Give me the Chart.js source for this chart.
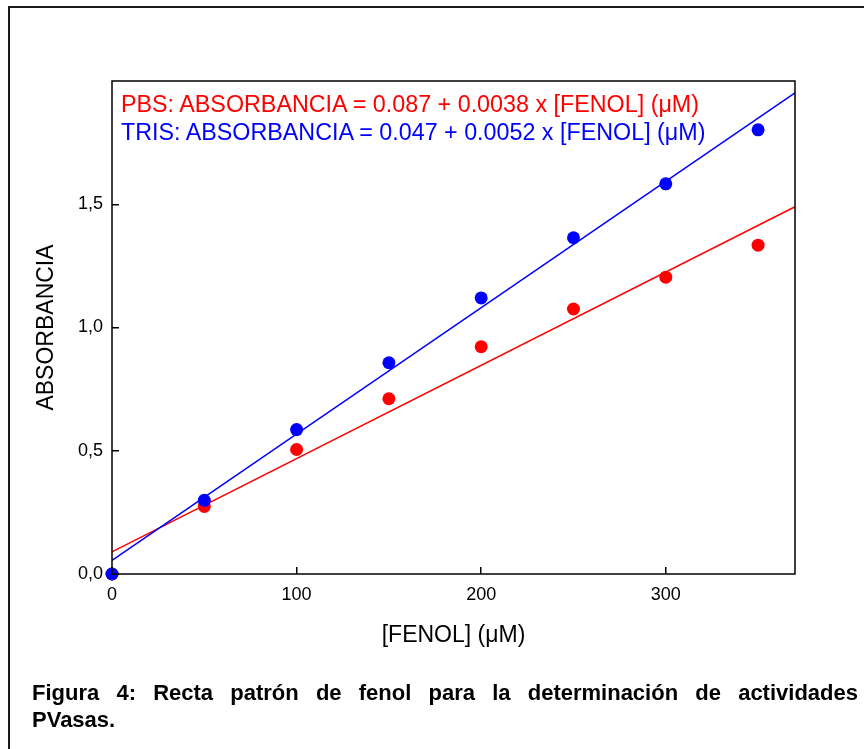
<!DOCTYPE html>
<html>
<head>
<meta charset="utf-8">
<script src="https://cdn.jsdelivr.net/npm/chart.js@4"></script>
<style>
    html, body { margin: 0; padding: 0; background: #fff; }
    body { width: 864px; height: 749px; position: relative; overflow: hidden; font-family: "Liberation Sans", Arial, sans-serif; }
    #frame { position: absolute; left: 8px; top: 6px; width: 900px; height: 800px; border: 2px solid #1a1a1a; }
    #chart { position: absolute; left: 0; top: 0; }
    .equations { position: absolute; left: 121px; top: 90px; font-size: 23.3px; line-height: 28px; white-space: nowrap; }
    .pbs { color: #ff0000; }
    .tris { color: #0000ff; }
    .caption { position: absolute; left: 32px; top: 679px; width: 826px; font-size: 22px; font-weight: bold; line-height: 27px; color: #000; }
    .caption .first { text-align: justify; text-align-last: justify; white-space: nowrap; }
</style>
</head>
<body>
<div id="frame"></div>
<canvas id="chart" width="864" height="749"></canvas>
<div class="equations">
    <div class="pbs">PBS: ABSORBANCIA = 0.087 + 0.0038 x [FENOL] (μM)</div>
    <div class="tris">TRIS: ABSORBANCIA = 0.047 + 0.0052 x [FENOL] (μM)</div>
</div>
<div class="caption">
    <div class="first">Figura 4: Recta patrón de fenol para la determinación de actividades</div>
    <div>PVasas.</div>
</div>
<script>
// Phenol concentration (µM) and measured absorbance
const fenol = [0, 50, 100, 150, 200, 250, 300, 350];
const pbsAbs = [0, 0.274, 0.505, 0.711, 0.922, 1.075, 1.204, 1.334];
const trisAbs = [0, 0.299, 0.586, 0.857, 1.12, 1.364, 1.583, 1.802];

// Regression line end points, as drawn
const fitX = [0, 370];
const pbsFit = [0.09, 1.49];
const trisFit = [0.055, 1.952];

const xTicks = [0, 100, 200, 300];
const yTicks = [0, 0.5, 1.0, 1.5];

const toPoints = (xs, ys) => xs.map((x, i) => ({ x: x, y: ys[i] }));

// Draws the box around the plot area
const plotBox = {
    id: 'plotBox',
    afterDatasetsDraw(chart) {
        const a = chart.chartArea;
        const ctx = chart.ctx;
        ctx.save();
        ctx.strokeStyle = '#000';
        ctx.lineWidth = 1.5;
        ctx.strokeRect(a.left, a.top, a.right - a.left, a.bottom - a.top);
        ctx.restore();
    }
};

const tickFont = { family: '"Liberation Sans", Arial, sans-serif', size: 18 };
const titleFont = { family: '"Liberation Sans", Arial, sans-serif', size: 23 };

new Chart(document.getElementById('chart'), {
    type: 'scatter',
    data: {
        datasets: [
            {
                label: 'TRIS',
                data: toPoints(fenol, trisAbs),
                backgroundColor: '#0000ff',
                borderWidth: 0,
                pointRadius: 6.5,
                clip: false,
                order: 0
            },
            {
                label: 'PBS',
                data: toPoints(fenol, pbsAbs),
                backgroundColor: '#ff0000',
                borderWidth: 0,
                pointRadius: 6.5,
                clip: false,
                order: 1
            },
            {
                type: 'line',
                label: 'TRIS fit',
                data: toPoints(fitX, trisFit),
                borderColor: '#0000ff',
                borderWidth: 1.5,
                pointRadius: 0,
                clip: false,
                order: 2
            },
            {
                type: 'line',
                label: 'PBS fit',
                data: toPoints(fitX, pbsFit),
                borderColor: '#ff0000',
                borderWidth: 1.5,
                pointRadius: 0,
                clip: false,
                order: 3
            }
        ]
    },
    options: {
        responsive: false,
        animation: false,
        layout: { padding: { left: 0, top: 81, right: 69, bottom: 0 } },
        plugins: {
            legend: { display: false },
            tooltip: { enabled: false }
        },
        scales: {
            x: {
                type: 'linear',
                min: 0,
                max: 370,
                afterBuildTicks: (scale) => { scale.ticks = xTicks.map(v => ({ value: v })); },
                afterFit: (scale) => { scale.height = 175; },
                border: { display: false },
                grid: { drawOnChartArea: false, drawTicks: true, tickLength: -7, color: '#000', lineWidth: 1.5 },
                ticks: { color: '#000', font: tickFont, padding: 17, maxRotation: 0 },
                title: { display: true, text: '[FENOL] (μM)', color: '#000', font: titleFont, padding: { top: 0, bottom: 100 } }
            },
            y: {
                type: 'linear',
                min: 0,
                max: 2,
                afterBuildTicks: (scale) => { scale.ticks = yTicks.map(v => ({ value: v })); },
                afterFit: (scale) => { scale.width = 112; },
                border: { display: false },
                grid: { drawOnChartArea: false, drawTicks: true, tickLength: -7, color: '#000', lineWidth: 1.5 },
                ticks: {
                    color: '#000',
                    font: tickFont,
                    padding: 16,
                    callback: (value) => value.toFixed(1).replace('.', ',')
                },
                title: { display: true, text: 'ABSORBANCIA', color: '#000', font: titleFont, padding: { top: 33, bottom: 0 } }
            }
        }
    },
    plugins: [plotBox]
});
</script>
</body>
</html>
